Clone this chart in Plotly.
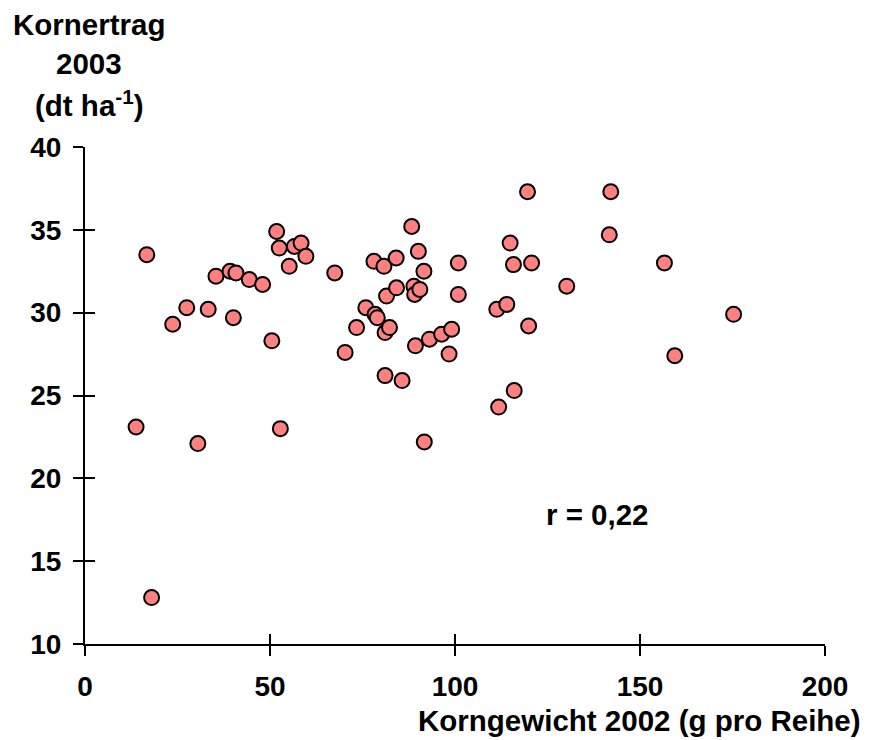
import plotly.graph_objects as go

korngewicht_2002 = [13.8, 16.7, 18.0, 23.7, 27.5, 30.5, 33.3, 35.4, 39.2, 40.8,
                    40.1, 44.4, 48.0, 50.5, 51.8, 52.5, 52.8, 55.2, 56.6, 58.4,
                    59.7, 67.5, 70.3, 73.4, 75.9, 78.1, 78.4, 79.0, 80.8, 81.1,
                    81.1, 81.5, 82.3, 84.1, 84.2, 85.7, 88.3, 88.9, 89.1, 89.3,
                    90.1, 90.5, 91.6, 91.7, 93.1, 96.4, 98.4, 99.1, 100.9, 100.9,
                    111.3, 111.8, 114.0, 114.9, 115.8, 116.0, 119.6, 119.9, 120.7, 130.2,
                    141.7, 142.1, 156.6, 159.4, 175.3]
kornertrag_2003 = [23.1, 33.5, 12.8, 29.3, 30.3, 22.1, 30.2, 32.2, 32.5, 32.4,
                   29.7, 32.0, 31.7, 28.3, 34.9, 33.9, 23.0, 32.8, 34.0, 34.2,
                   33.4, 32.4, 27.6, 29.1, 30.3, 33.1, 29.9, 29.7, 32.8, 28.8,
                   26.2, 31.0, 29.1, 33.3, 31.5, 25.9, 35.2, 31.6, 31.1, 28.0,
                   33.7, 31.4, 32.5, 22.2, 28.4, 28.7, 27.5, 29.0, 33.0, 31.1,
                   30.2, 24.3, 30.5, 34.2, 32.9, 25.3, 37.3, 29.2, 33.0, 31.6,
                   34.7, 37.3, 33.0, 27.4, 29.9]

x_ticks = [0, 50, 100, 150, 200]
y_ticks = [10, 15, 20, 25, 30, 35, 40]
x_range = [0, 200]
y_range = [10, 40]
r_label = "r = 0,22"
r_pos = (138.6, 17.8)

FONT = "Liberation Sans"
FS = 28
FT = 29.5

fig = go.Figure()
fig.add_trace(go.Scatter(
    x=korngewicht_2002, y=kornertrag_2003, mode="markers",
    marker=dict(size=15, color="#FF8080", line=dict(color="black", width=2)),
    showlegend=False, cliponaxis=False))
fig.add_trace(go.Scatter(x=[], y=[], xaxis="x2", yaxis="y2", showlegend=False))

common = dict(showgrid=False, zeroline=False, tickcolor="black", tickwidth=2,
              ticklen=10, automargin=False)
fig.update_layout(
    width=870, height=740,
    paper_bgcolor="white", plot_bgcolor="white",
    margin=dict(l=85, r=45, t=147, b=96),
    xaxis=dict(range=x_range, tickvals=x_ticks, ticks="outside", showline=True,
               linecolor="black", linewidth=2,
               tickfont=dict(family=FONT, size=FS, color="black", weight="bold"),
               ticklabelstandoff=6, **common),
    yaxis=dict(range=y_range, tickvals=y_ticks, ticks="outside", showline=True,
               linecolor="black", linewidth=2,
               tickfont=dict(family=FONT, size=FS, color="black", weight="bold"),
               ticklabelstandoff=6, **common),
    xaxis2=dict(range=x_range, tickvals=x_ticks, ticks="inside", overlaying="x",
                anchor="y", side="bottom", showticklabels=False, showline=False, **common),
    yaxis2=dict(range=y_range, tickvals=y_ticks, ticks="inside", overlaying="y",
                anchor="x", side="left", showticklabels=False, showline=False, **common),
)

tf = dict(family=FONT, size=FT, color="black", weight="bold")
fig.add_annotation(text="Korngewicht 2002 (g pro Reihe)", xref="paper", yref="paper",
                   x=(863 - 85) / 740, y=-(720 - 644) / 497, xanchor="right", yanchor="middle",
                   showarrow=False, font=tf)
for txt, py in [("Kornertrag", 25), ("2003", 63), ("(dt ha<sup>-1</sup>)", 103)]:
    fig.add_annotation(text=txt, xref="paper", yref="paper",
                       x=(89 - 85) / 740, y=1 + (147 - py) / 497,
                       xanchor="center", yanchor="middle", showarrow=False, font=tf)
fig.add_annotation(text=r_label, x=r_pos[0], y=r_pos[1], xref="x", yref="y",
                   showarrow=False, font=tf)

fig.write_html("out.html", config={"displayModeBar": False},
               post_script="document.body.style.margin='0';document.body.style.padding='0';")
